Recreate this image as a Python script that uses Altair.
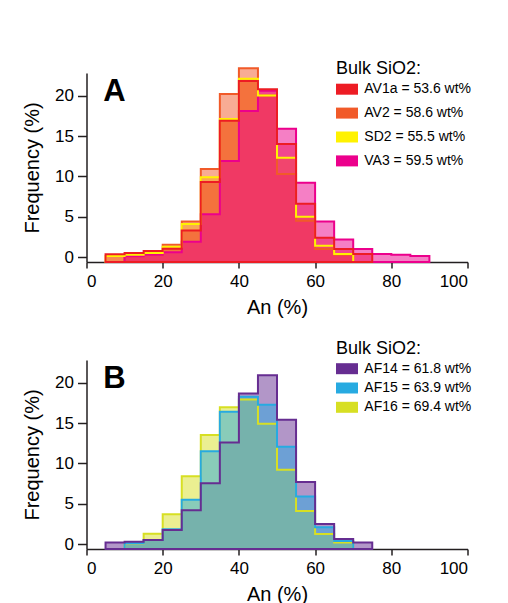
import altair as alt
import pandas as pd

# ---------------- data ----------------
BIN_LEFT = [5, 10, 15, 20, 25, 30, 35, 40, 45, 50, 55, 60, 65, 70, 75, 80, 85]
BIN_WIDTH = 5

# Panel A
A_LABELS = ["AV1a = 53.6 wt%", "AV2 = 58.6 wt%", "SD2 = 55.5 wt%", "VA3 = 59.5 wt%"]
A_COLORS = ["#ED1C24", "#F15A29", "#FFF200", "#EC008C"]
AV1A = [0.35, 0.5, 0.75, 1.05, 3.3, 9.3, 16.9, 21.8, 20.8, 14.0, 6.6, 2.4, 1.0, 0.4, 0, 0, 0]
AV2 = [0, 0.1, 0.3, 1.55, 4.4, 10.9, 20.2, 23.4, 20.0, 10.3, 4.5, 1.0, 0.3, 0, 0, 0, 0]
SD2 = [0.15, 0.3, 0.5, 1.3, 4.1, 9.9, 17.1, 22.1, 20.0, 12.3, 5.0, 1.4, 0.4, 0, 0, 0, 0]
VA3 = [0, 0.1, 0.3, 0.6, 1.9, 5.3, 11.9, 18.1, 20.6, 15.9, 9.2, 4.4, 2.2, 1.0, 0.4, 0.3, 0.15]
A_FILL_ORDER = [2, 0, 1, 3]
A_LINE_ORDER = [1, 3, 2, 0]

# Panel B
B_LABELS = ["AF14 = 61.8 wt%", "AF15 = 63.9 wt%", "AF16 = 69.4 wt%"]
B_COLORS = ["#662D91", "#27AAE1", "#D7DF23"]
AF14 = [0.2, 0.3, 0.5, 1.75, 4.2, 7.55, 12.6, 18.65, 20.9, 15.4, 7.7, 2.5, 0.65, 0.2, 0, 0, 0]
AF15 = [0, 0.15, 0.5, 1.85, 5.5, 11.5, 16.4, 18.25, 17.25, 12.05, 5.9, 2.1, 0.4, 0, 0, 0, 0]
AF16 = [0, 0.1, 1.3, 3.7, 8.4, 13.5, 16.95, 17.9, 14.9, 9.2, 4.1, 1.25, 0.2, 0, 0, 0, 0]
B_FILL_ORDER = [0, 2, 1]
B_LINE_ORDER = [2, 1, 0]

X_TICKS = [0, 20, 40, 60, 80, 100]
Y_TICKS = [0, 5, 10, 15, 20]
Y_DOMAIN = [-0.6, 22.8]
FONT = "Liberation Sans"


def step_rows(label, values):
    idx = [i for i, v in enumerate(values) if v > 0]
    lo, hi = idx[0], idx[-1]
    rows = [{"series": label, "x": BIN_LEFT[i], "freq": values[i]} for i in range(lo, hi + 1)]
    rows.append({"series": label, "x": BIN_LEFT[hi] + BIN_WIDTH, "freq": values[hi]})
    return rows


def panel(labels, colors, series, fill_order, line_order, letter, legend_y, row_pad):
    rows = []
    for lab, vals in zip(labels, series):
        rows += step_rows(lab, vals)
    df = pd.DataFrame(rows)

    x = alt.X("x:Q", scale=alt.Scale(domain=[0, 100], nice=False, zero=False),
              axis=alt.Axis(values=X_TICKS, title="An (%)"))
    y = alt.Y("freq:Q", stack=None,
              scale=alt.Scale(domain=Y_DOMAIN, nice=False, zero=False),
              axis=alt.Axis(values=Y_TICKS, title="Frequency (%)"))
    y2 = alt.datum(Y_DOMAIN[0])
    color = alt.Color("series:N", scale=alt.Scale(domain=labels, range=colors),
                      legend=alt.Legend(title="Bulk SiO2:", orient="none",
                                        legendX=249.5, legendY=legend_y,
                                        rowPadding=row_pad))
    layers = []
    # translucent fills
    for i in fill_order:
        layers.append(
            alt.Chart(df)
            .transform_filter(alt.datum.series == labels[i])
            .mark_area(interpolate="step-after", fillOpacity=0.5, strokeWidth=0)
            .encode(x=x, y=y, y2=y2, color=color)
        )
    # outlines on top of all fills
    for i in line_order:
        layers.append(
            alt.Chart(df)
            .transform_filter(alt.datum.series == labels[i])
            .mark_area(interpolate="step-after", fillOpacity=0,
                       stroke=colors[i], strokeWidth=2)
            .encode(x=x, y=y, y2=y2)
        )
    txt = (
        alt.Chart(pd.DataFrame({"t": [letter]}))
        .mark_text(font=FONT, fontSize=31, fontWeight="bold", align="left",
                   baseline="alphabetic", color="black")
        .encode(x=alt.datum(4.4), y=alt.datum(19.3), text="t:N")
    )
    layers.append(txt)
    return alt.layer(*layers).properties(width=381, height=189)


top = panel(A_LABELS, A_COLORS, [AV1A, AV2, SD2, VA3], A_FILL_ORDER, A_LINE_ORDER,
            "A", -12.8, 5.9)
bottom = panel(B_LABELS, B_COLORS, [AF14, AF15, AF16], B_FILL_ORDER, B_LINE_ORDER,
               "B", -20.3, 1.3)

chart = (
    alt.vconcat(top, bottom, spacing=22)
    .resolve_scale(color="independent")
    .resolve_legend(color="independent")
    .properties(padding={"left": 14.5, "top": 52, "right": 5, "bottom": 0})
    .configure_view(stroke=None)
    .configure_axis(grid=False, domainColor="#231F20", domainWidth=1.5,
                    tickColor="#231F20", tickWidth=1.5,
                    labelFont=FONT, labelFontSize=17, labelColor="black",
                    titleFont=FONT, titleFontSize=20, titleFontWeight="normal",
                    titleColor="black")
    .configure_axisX(tickSize=6, labelPadding=5, titlePadding=8)
    .configure_axisY(tickSize=9, labelPadding=4, titlePadding=12)
    .configure_legend(titleFont=FONT, titleFontSize=18, titleFontWeight="normal",
                      titleColor="black", titlePadding=0,
                      labelFont=FONT, labelFontSize=14, labelColor="black",
                      labelOffset=6.3, padding=0,
                      symbolType="M-1,-0.5H1V0.5H-1Z", symbolSize=484,
                      symbolStrokeWidth=0, symbolOpacity=1)
)

chart.save("out.html", embed_options={"renderer": "svg", "actions": False})
